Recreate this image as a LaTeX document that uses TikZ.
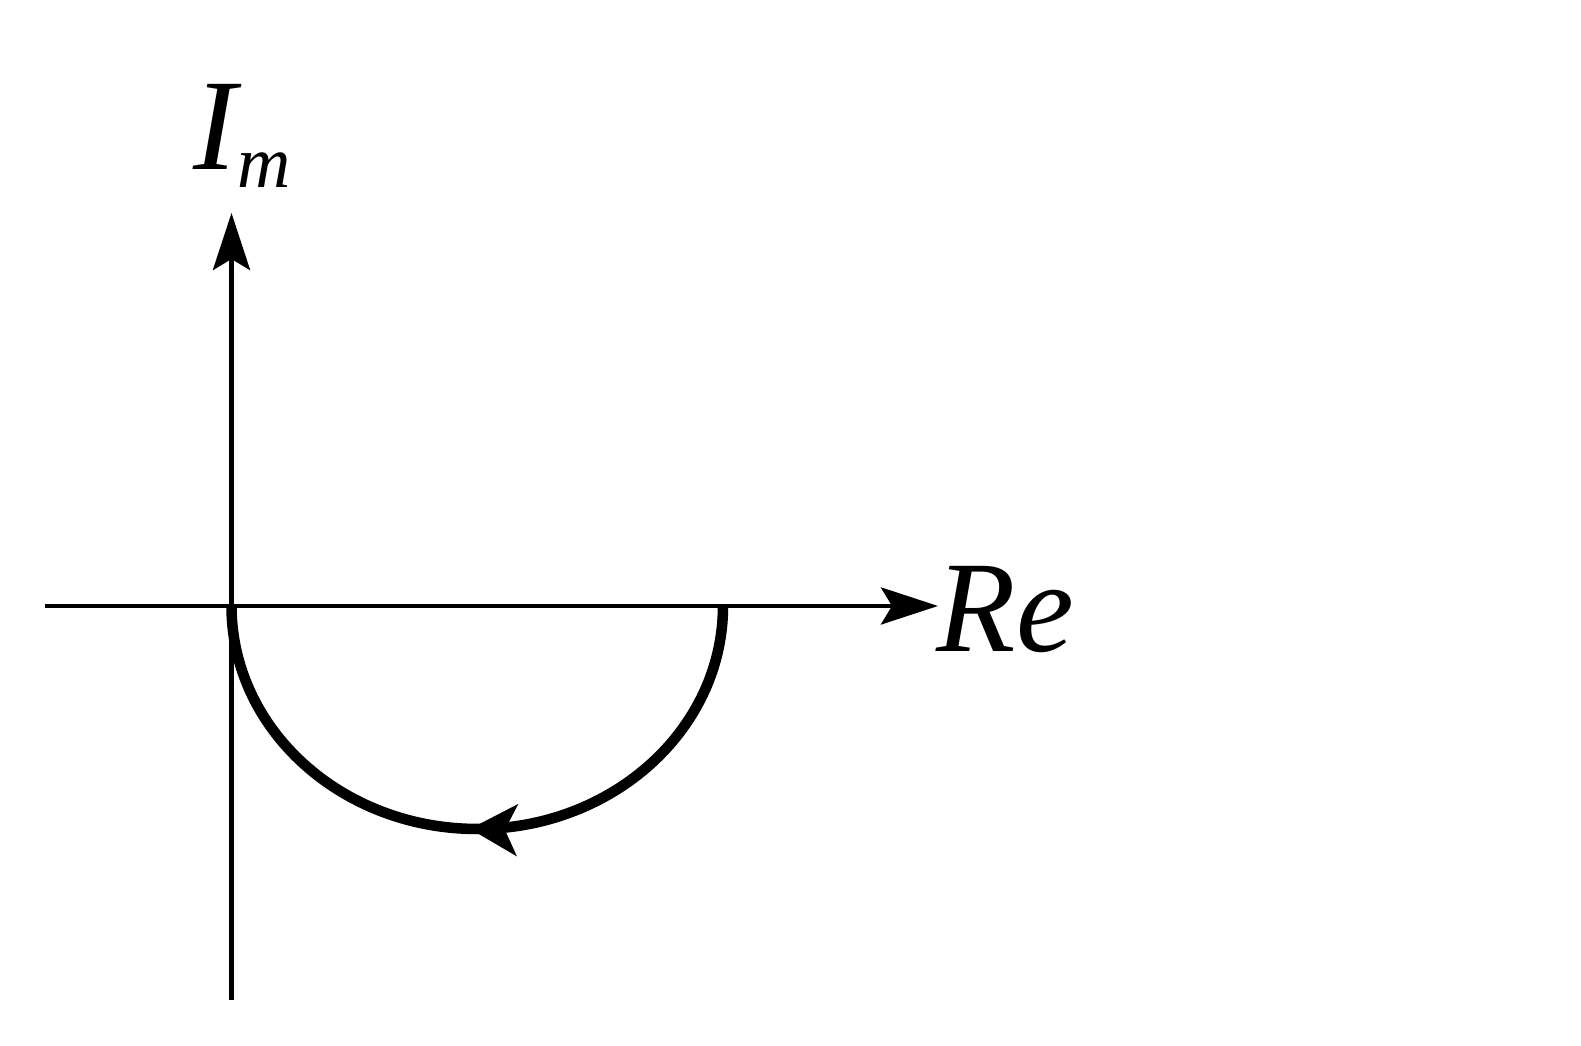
\documentclass[tikz,border=0pt]{standalone}
\usepackage{fontspec}
\setmainfont{Liberation Serif}
\usepackage{tikz}
\usetikzlibrary{arrows.meta,decorations.markings}
\tikzset{axis style/.style = {%
  line width = 1.4pt,
  -{Stealth[length=0.57cm, width=0.37cm, inset=0.11cm]}
 },
 path style/.style = {%
  line width = 3pt,
  postaction = {decorate},
  decoration = {markings,
   mark = at position 0.51 with {\arrow{Stealth[length=0.47cm, width=0.51cm, inset=0.12cm]}}}
 },
 label style/.style = {%
  font = \fontsize{37}{40}\selectfont\itshape,
  inner sep = 0pt
 }
}

\begin{document}
\begin{tikzpicture}
      \coordinate (O) at (2.315,4.40);
      \coordinate (X0) at (0.45,4.40);
      \coordinate (X1) at (9.38,4.40);
      \coordinate (Y0) at (2.315,0.46);
      \coordinate (Y1) at (2.315,8.33);
      \coordinate (K) at (7.23,4.40);

      \draw[axis style] (X0) -- (X1);
      \draw[axis style] (Y0) -- (Y1);
      \draw[path style] (K) arc[start angle=0, end angle=-180, x radius=2.4575, y radius=2.23];

      \node[label style, anchor=base west] (re) at (9.36,3.94) {Re};
      \node[label style, anchor=base west] (im) at (1.93,8.76) {I\raisebox{-0.18cm}{\fontsize{21}{22}\selectfont m}};

      \pgfresetboundingbox
      \useasboundingbox (0,0) rectangle (15.81,10.46);
     \end{tikzpicture}
\end{document}
